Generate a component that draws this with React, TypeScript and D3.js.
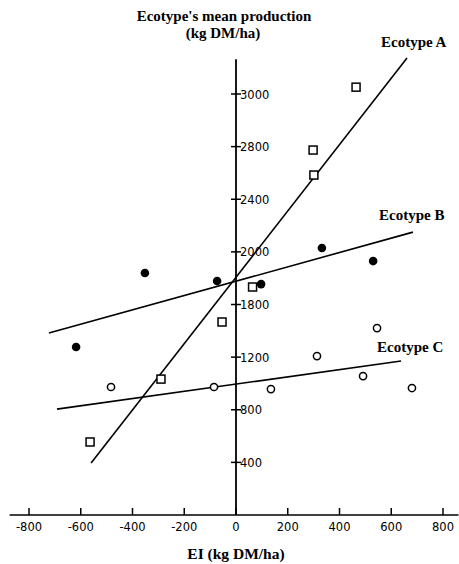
import React from "react";
import * as d3 from "d3";

const W = 459;
const H = 564;

// Ecotype A (open squares)
const ecoA_x = [464, 298, 301, 64, -54, -290, -564];
const ecoA_y = [3252, 2774, 2584, 1733, 1467, 1033, 555];
// Ecotype B (filled dots)
const ecoB_x = [-352, -73, 97, 332, 530, -618];
const ecoB_y = [1839, 1778, 1755, 2029, 1930, 1277];
// Ecotype C (open circles)
const ecoC_x = [-483, -85, 135, 313, 491, 545, 680];
const ecoC_y = [973, 973, 957, 1208, 1056, 1421, 965];

// Regression lines (endpoints in data units)
const lineA_x = [-560, 661];
const lineA_y = [395, 3473];
const lineB_x = [-723, 684];
const lineB_y = [1383, 2150];
const lineC_x = [-692, 638];
const lineC_y = [805, 1170];

const xTicks = [-800, -600, -400, -200, 0, 200, 400, 600, 800];
const yTickValues = [400, 800, 1200, 1600, 2000, 2400, 2800, 3200];
const yTickLabels = ["400", "800", "1200", "1800", "2000", "2400", "2800", "3000"];

const serifBold = "'Liberation Serif', 'Times New Roman', serif";
const tickFont = "'DejaVu Sans', sans-serif";

export default function App() {
  const x = d3.scaleLinear().domain([-800, 800]).range([29, 443]);
  const y = d3.scaleLinear().domain([0, 3200]).range([515, 94]);
  const x0 = x(0);
  const y0 = y(0);
  const line = d3
    .line<[number, number]>()
    .x((d) => x(d[0]))
    .y((d) => y(d[1]));
  const mk = (xs: number[], ys: number[]) =>
    xs.map((v, i) => [v, ys[i]] as [number, number]);

  const sq = 8;
  return (
    <svg
      width={W}
      height={H}
      style={{ position: "absolute", left: 0, top: 0, background: "#fff" }}
    >
      <rect width={W} height={H} fill="#fff" />
      {/* Title */}
      <text x={224} y={21} textAnchor="middle" fontFamily={serifBold} fontWeight="bold" fontSize={15}>
        Ecotype's mean production
      </text>
      <text x={223} y={38} textAnchor="middle" fontFamily={serifBold} fontWeight="bold" fontSize={15}>
        (kg DM/ha)
      </text>

      {/* X axis */}
      <line x1={x(-875)} x2={x(860)} y1={y0} y2={y0} stroke="#000" strokeWidth={1.6} />
      {xTicks.map((t) => (
        <g key={t}>
          <line x1={x(t)} x2={x(t)} y1={y0} y2={y0 - 7} stroke="#000" strokeWidth={1.5} />
          <text
            x={x(t)}
            y={531}
            textAnchor="middle"
            fontFamily={tickFont}
            fontSize={11.5}
          >
            {t}
          </text>
        </g>
      ))}
      <text x={236} y={559} textAnchor="middle" fontFamily={serifBold} fontWeight="bold" fontSize={15.5}>
        EI (kg DM/ha)
      </text>

      {/* Y axis */}
      <line x1={x0} x2={x0} y1={y0} y2={y(3465)} stroke="#000" strokeWidth={1.8} />
      {yTickValues.map((t, i) => (
        <g key={t}>
          <line x1={x0 - 5} x2={x0 + 5} y1={y(t)} y2={y(t)} stroke="#000" strokeWidth={1.5} />
          <text
            x={x0 + 4}
            y={y(t) + 4.5}
            fontFamily={tickFont}
            fontSize={11.5}
          >
            {yTickLabels[i]}
          </text>
        </g>
      ))}

      {/* Regression lines */}
      <path d={line(mk(lineA_x, lineA_y)) || ""} fill="none" stroke="#000" strokeWidth={1.6} />
      <path d={line(mk(lineB_x, lineB_y)) || ""} fill="none" stroke="#000" strokeWidth={1.6} />
      <path d={line(mk(lineC_x, lineC_y)) || ""} fill="none" stroke="#000" strokeWidth={1.6} />

      {/* Ecotype A squares */}
      {ecoA_x.map((v, i) => (
        <rect
          key={"a" + i}
          x={x(v) - sq / 2}
          y={y(ecoA_y[i]) - sq / 2}
          width={sq}
          height={sq}
          fill="#fff"
          stroke="#000"
          strokeWidth={1.5}
        />
      ))}
      {/* Ecotype B dots */}
      {ecoB_x.map((v, i) => (
        <circle key={"b" + i} cx={x(v)} cy={y(ecoB_y[i])} r={4.3} fill="#000" />
      ))}
      {/* Ecotype C circles */}
      {ecoC_x.map((v, i) => (
        <circle
          key={"c" + i}
          cx={x(v)}
          cy={y(ecoC_y[i])}
          r={3.6}
          fill="#fff"
          stroke="#000"
          strokeWidth={1.5}
        />
      ))}

      {/* Series labels */}
      <text x={381} y={47} fontFamily={serifBold} fontWeight="bold" fontSize={15}>
        Ecotype A
      </text>
      <text x={379} y={220} fontFamily={serifBold} fontWeight="bold" fontSize={15}>
        Ecotype B
      </text>
      <text x={377} y={352} fontFamily={serifBold} fontWeight="bold" fontSize={15}>
        Ecotype C
      </text>
    </svg>
  );
}
